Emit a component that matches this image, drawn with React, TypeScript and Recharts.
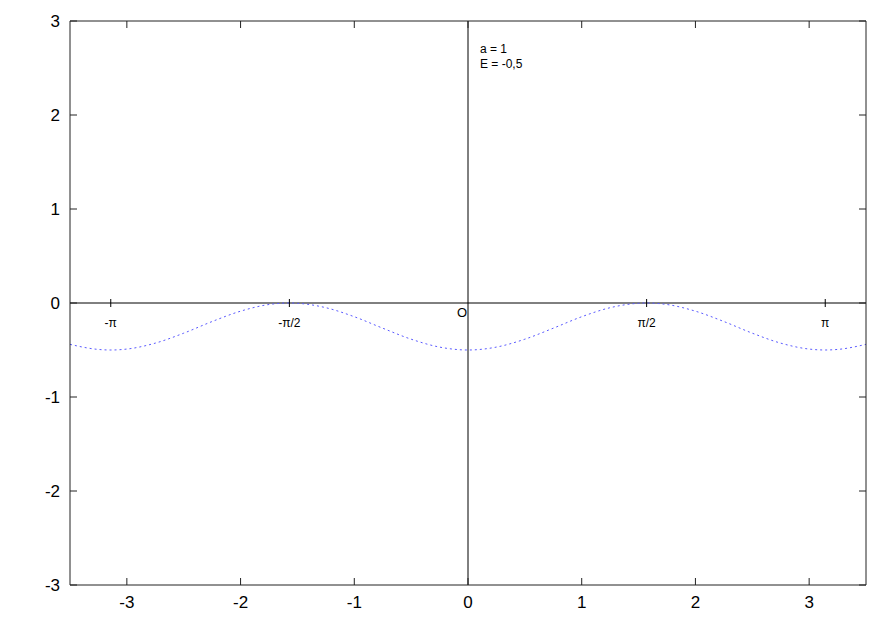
import React from 'react';
import { LineChart, Line, XAxis, YAxis, ReferenceLine, ReferenceDot } from 'recharts';

// curve points (x, y)
const curveX = [
  -3.5, -3.25, -3.14, -3, -2.75, -2.5, -2.25, -2, -1.75, -1.57, -1.5, -1.25, -1, -0.75, -0.5, -0.25,
  0, 0.25, 0.5, 0.75, 1, 1.25, 1.5, 1.57, 1.75, 2, 2.25, 2.5, 2.75, 3, 3.14, 3.25, 3.5,
];
const curveY = [
  -0.44, -0.494, -0.5, -0.49, -0.427, -0.321, -0.197, -0.087, -0.016, 0, -0.003, -0.05, -0.146, -0.268, -0.385, -0.469,
  -0.5, -0.469, -0.385, -0.268, -0.146, -0.05, -0.003, 0, -0.016, -0.087, -0.197, -0.321, -0.427, -0.49, -0.5, -0.494, -0.44,
];

const xTicks = [-3, -2, -1, 0, 1, 2, 3];
const yTicks = [-3, -2, -1, 0, 1, 2, 3];
const piMarks = [-Math.PI, -Math.PI / 2, Math.PI / 2, Math.PI];
const piLabels = ['-π', '-π/2', 'π/2', 'π'];
const notes = ['a = 1', 'E = -0,5'];

const data = curveX.map((x, i) => ({ x, y: curveY[i] }));

const FONT = 'Liberation Sans, Arial, sans-serif';
const AXIS = '#222';

const BottomTick = (p: any) => (
  <g>
    <line x1={p.x} y1={p.y} x2={p.x} y2={p.y - 7} stroke={AXIS} />
    <text x={p.x} y={p.y + 23} textAnchor="middle" fontSize={17} fontFamily={FONT} fill="#000">
      {p.payload.value}
    </text>
  </g>
);

const TopTick = (p: any) => <line x1={p.x} y1={p.y} x2={p.x} y2={p.y + 7} stroke={AXIS} />;

const LeftTick = (p: any) => (
  <g>
    <line x1={p.x} y1={p.y} x2={p.x + 7} y2={p.y} stroke={AXIS} />
    <text x={p.x - 10} y={p.y + 6} textAnchor="end" fontSize={17} fontFamily={FONT} fill="#000">
      {p.payload.value}
    </text>
  </g>
);

const RightTick = (p: any) => <line x1={p.x} y1={p.y} x2={p.x - 7} y2={p.y} stroke={AXIS} />;

export default function App() {
  return (
    <div style={{ position: 'absolute', left: 0, top: 0, background: '#fff' }}>
      <LineChart width={885} height={620} data={data} margin={{ top: 0, right: 0, bottom: 0, left: 0 }}>
        <XAxis
          dataKey="x"
          type="number"
          domain={[-3.5, 3.5]}
          ticks={xTicks}
          interval={0}
          allowDataOverflow
          height={35}
          tickSize={0}
          tickMargin={0}
          stroke={AXIS}
          tick={<BottomTick />}
        />
        <XAxis
          xAxisId="top"
          dataKey="x"
          orientation="top"
          type="number"
          domain={[-3.5, 3.5]}
          ticks={xTicks}
          interval={0}
          allowDataOverflow
          height={21}
          tickSize={0}
          tickMargin={0}
          stroke={AXIS}
          tick={<TopTick />}
        />
        <YAxis
          type="number"
          domain={[-3, 3]}
          ticks={yTicks}
          interval={0}
          allowDataOverflow
          width={70}
          tickSize={0}
          tickMargin={0}
          stroke={AXIS}
          tick={<LeftTick />}
        />
        <YAxis
          yAxisId="right"
          orientation="right"
          type="number"
          domain={[-3, 3]}
          ticks={yTicks}
          interval={0}
          allowDataOverflow
          width={19}
          tickSize={0}
          tickMargin={0}
          stroke={AXIS}
          tick={<RightTick />}
        />
        <ReferenceLine x={0} stroke="#000" />
        <ReferenceLine y={0} stroke="#000" />
        {piMarks.map((v, i) => (
          <ReferenceDot
            key={i}
            x={v}
            y={0}
            r={0}
            shape={(p: any) => (
              <g>
                <line x1={p.cx} y1={p.cy - 4} x2={p.cx} y2={p.cy + 4} stroke="#000" />
                <text x={p.cx} y={p.cy + 24} textAnchor="middle" fontSize={12} fontFamily={FONT} fill="#000">
                  {piLabels[i]}
                </text>
              </g>
            )}
          />
        ))}
        <ReferenceDot
          x={0}
          y={0}
          r={0}
          shape={(p: any) => (
            <text x={p.cx - 6} y={p.cy + 14} textAnchor="middle" fontSize={13} fontFamily={FONT} fill="#000">
              O
            </text>
          )}
        />
        <ReferenceDot
          x={0}
          y={3}
          r={0}
          shape={(p: any) => (
            <g>
              {notes.map((t, i) => (
                <text key={i} x={p.cx + 12} y={p.cy + 32 + i * 15} fontSize={12} fontFamily={FONT} fill="#000">
                  {t}
                </text>
              ))}
            </g>
          )}
        />
        <Line
          xAxisId="top"
          yAxisId="right"
          dataKey="y"
          type="monotone"
          stroke="none"
          dot={false}
          legendType="none"
          isAnimationActive={false}
        />
        <Line
          dataKey="y"
          type="monotone"
          stroke="#5a5aff"
          strokeWidth={1}
          strokeDasharray="2 3"
          dot={false}
          isAnimationActive={false}
        />
      </LineChart>
    </div>
  );
}
